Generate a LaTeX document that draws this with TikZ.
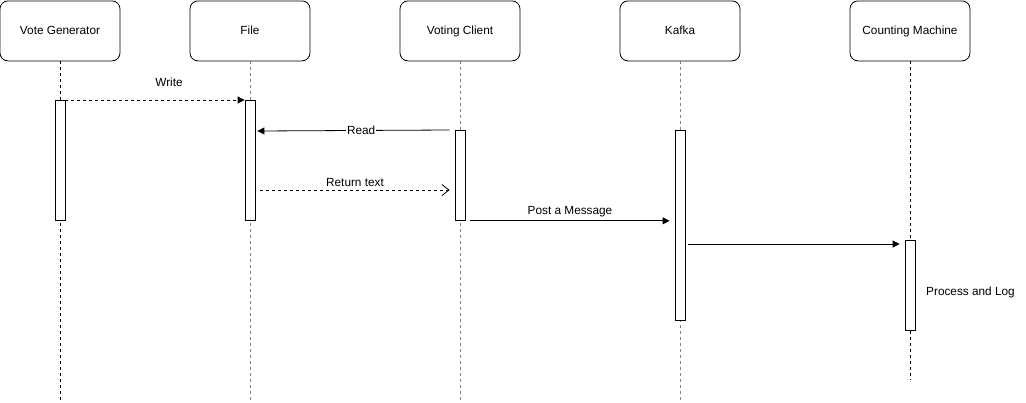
\documentclass[tikz,border=0pt]{standalone}
\usepackage{fontspec}
\setmainfont{Liberation Sans}
\usetikzlibrary{arrows.meta}
\begin{document}
\begin{tikzpicture}[x=1pt,y=-1pt,
  font=\fontsize{11.8}{13}\selectfont,
  actor/.style={draw,rounded corners=8pt,minimum width=120pt,minimum height=60pt,anchor=north,line width=0.8pt,text height=8.6pt,text depth=1pt},
  life/.style={dashed,line width=0.8pt,dash pattern=on 3pt off 3pt},
  lifeg/.style={life,draw=gray},
  bar/.style={draw,fill=white,line width=0.8pt,minimum width=10pt,inner sep=0pt,anchor=north},
  msg/.style={line width=0.8pt,-{Triangle[length=7pt,width=7pt]}},
  rmsg/.style={line width=0.8pt,dashed,dash pattern=on 3pt off 3pt,-{Straight Barb[length=7pt,width=11pt,line width=0.8pt]}},
  wmsg/.style={line width=0.8pt,dashed,dash pattern=on 3pt off 3pt,-{Triangle[length=7pt,width=7pt]}},
  lbl/.style={inner sep=1pt}]
\useasboundingbox (0,0) rectangle (1026,402);
% actors
\node[actor] (vg) at (60,0.5) {Vote Generator};
\node[actor] (fi) at (250,0.5) {File};
\node[actor] (vc) at (460,0.5) {Voting Client};
\node[actor] (ka) at (680,0.5) {Kafka};
\node[actor] (cm) at (910,0.5) {Counting Machine};
% lifeline ends
\coordinate (vgE) at (60,400);
\coordinate (fiE) at (250,400);
\coordinate (vcE) at (460,400);
\coordinate (kaE) at (680,400);
\coordinate (cmE) at (910,380);
\draw[life] (vg.south) -- (vgE);
\draw[lifeg] (fi.south) -- (fiE);
\draw[lifeg] (vc.south) -- (vcE);
\draw[lifeg] (ka.south) -- (kaE);
\draw[life] (cm.south) -- (cmE);
% activation bars
\node[bar,minimum height=120pt] (vgA) at (60,100) {};
\node[bar,minimum height=120pt] (fiA) at (250,100) {};
\node[bar,minimum height=90pt] (vcA) at (460,130) {};
\node[bar,minimum height=190pt] (kaA) at (680,130) {};
\node[bar,minimum height=90pt] (cmA) at (910,240) {};
% messages
\draw[wmsg] (vgA.north east) -- (fiA.north west);
\node[lbl] (wl) at (169,82) {Write};
\coordinate (rdE) at ([xshift=2pt,yshift=-1pt]fiA.east |- vcA.north);
\draw[msg] ([xshift=-5pt]vcA.north west) -- node[pos=0.46,fill=white,lbl] (rl) {Read} (rdE);
\coordinate (rtS) at ([xshift=5pt]fiA.east |- 0,190);
\coordinate (rtE) at ([xshift=-5pt]vcA.west |- 0,190);
\draw[rmsg] (rtS) -- (rtE);
\node[lbl] (rtl) at (355,182) {Return text};
\draw[msg] ([xshift=5pt]vcA.south east) -- ([xshift=-5pt]kaA.west |- vcA.south);
\node[lbl] (pml) at (570,212) {Post a Message};
\coordinate (k2) at ([xshift=3pt]kaA.east |- 0,244);
\coordinate (c2) at ([xshift=-5pt]cmA.west |- 0,244);
\draw[msg] (k2) -- (c2);
\node[lbl,anchor=west] (pl) at (925,292) {Process and Log};
\end{tikzpicture}
\end{document}
